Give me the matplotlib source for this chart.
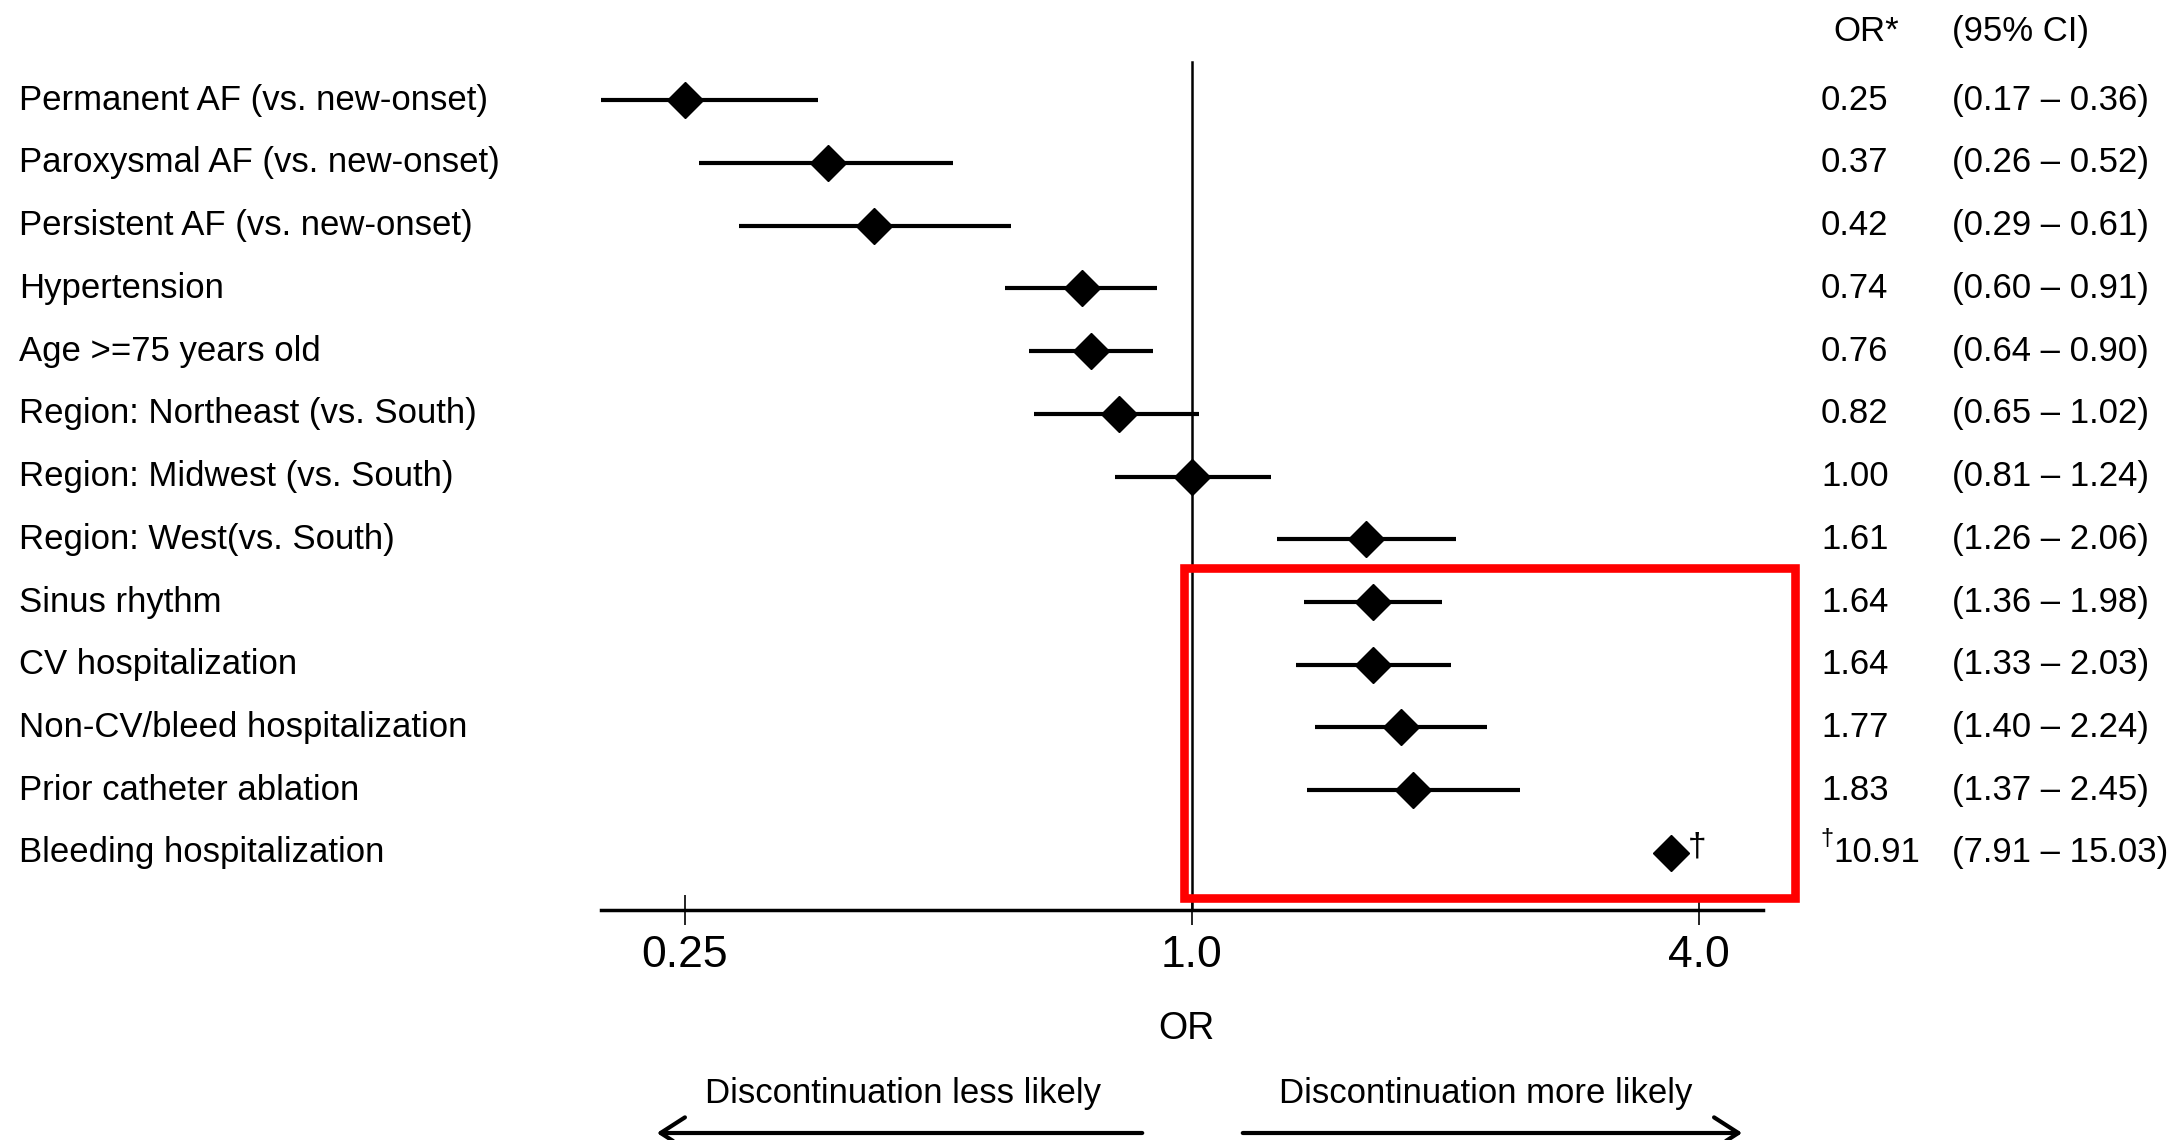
import matplotlib
matplotlib.use("Agg")
import matplotlib.pyplot as plt
import matplotlib.transforms as mtransforms
from matplotlib.patches import Rectangle
from matplotlib.ticker import FixedLocator, NullLocator, FixedFormatter

plt.rcParams['font.family'] = ['Liberation Sans', 'DejaVu Sans']

# forest plot data
labels = ["Permanent AF (vs. new-onset)", "Paroxysmal AF (vs. new-onset)",
          "Persistent AF (vs. new-onset)", "Hypertension", "Age >=75 years old",
          "Region: Northeast (vs. South)", "Region: Midwest (vs. South)",
          "Region: West(vs. South)", "Sinus rhythm", "CV hospitalization",
          "Non-CV/bleed hospitalization", "Prior catheter ablation",
          "Bleeding hospitalization"]
or_vals = [0.25, 0.37, 0.42, 0.74, 0.76, 0.82, 1.00, 1.61, 1.64, 1.64, 1.77, 1.83, 10.91]
ci_low = [0.17, 0.26, 0.29, 0.60, 0.64, 0.65, 0.81, 1.26, 1.36, 1.33, 1.40, 1.37, 7.91]
ci_high = [0.36, 0.52, 0.61, 0.91, 0.90, 1.02, 1.24, 2.06, 1.98, 2.03, 2.24, 2.45, 15.03]
off_scale = [False] * 12 + [True]
tick_vals = [0.25, 1.0, 4.0]
tick_labels = ["0.25", "1.0", "4.0"]

OFF_POS = 3.7  # where an off-scale estimate is drawn

W, H = 2168, 1140
fig = plt.figure(figsize=(W / 100, H / 100), dpi=100)
ax = fig.add_axes([601 / W, 1 - 910 / H, (1763 - 601) / W, (910 - 62) / H])

ax.set_xscale('log')
ax.set_xlim(0.199, 4.76)
ax.set_ylim(12.91, -0.61)

rows = list(range(len(labels)))

for i in rows:
    if off_scale[i]:
        ax.plot(OFF_POS, i, marker='D', color='black', markersize=18, clip_on=False)
        ax.text(OFF_POS * 1.075, i - 0.1, "\u2020", fontsize=24, ha='center', va='center')
    else:
        ax.plot([ci_low[i], ci_high[i]], [i, i], color='black', lw=3, solid_capstyle='butt')
        ax.plot(or_vals[i], i, marker='D', color='black', markersize=18)

# reference line at OR = 1
ax.plot([1, 1], [-0.61, 12.91], color='black', lw=1.8, clip_on=False)

# highlight box
box = Rectangle((0.978, 7.46), 5.2 - 0.978, 12.72 - 7.46, fill=False,
                edgecolor='#ff0000', lw=6.2, clip_on=False, zorder=5)
ax.add_patch(box)

for s in ['top', 'left', 'right']:
    ax.spines[s].set_visible(False)
ax.spines['bottom'].set_linewidth(2.5)
ax.set_yticks([])
ax.xaxis.set_major_locator(FixedLocator(tick_vals))
ax.xaxis.set_major_formatter(FixedFormatter(tick_labels))
ax.xaxis.set_minor_locator(NullLocator())
ax.tick_params(axis='x', direction='inout', length=22, width=1.2, pad=7, labelsize=32)

# text columns
trans = mtransforms.blended_transform_factory(fig.transFigure, ax.transData)
for i in rows:
    ax.text(19 / W, i, labels[i], transform=trans, fontsize=25, ha='left', va='center')
    if off_scale[i]:
        ax.text(1820 / W, i - 0.22, "\u2020", transform=trans, fontsize=17, ha='left', va='center')
        ax.text(1833 / W, i, f"{or_vals[i]:.2f}", transform=trans, fontsize=25, ha='left', va='center')
    else:
        ax.text(1821 / W, i, f"{or_vals[i]:.2f}", transform=trans, fontsize=25, ha='left', va='center')
    ax.text(1952 / W, i, f"({ci_low[i]:.2f} \u2013 {ci_high[i]:.2f})", transform=trans,
            fontsize=25, ha='left', va='center')

ax.text(1833 / W, -1.1, "OR*", transform=trans, fontsize=25, ha='left', va='center')
ax.text(1952 / W, -1.1, "(95% CI)", transform=trans, fontsize=25, ha='left', va='center')

fig.text(1186 / W, 1 - 1029 / H, "OR", fontsize=27, ha='center', va='center')
fig.text(903 / W, 1 - 1094 / H, "Discontinuation less likely", fontsize=25, ha='center', va='center')
fig.text(1486 / W, 1 - 1094 / H, "Discontinuation more likely", fontsize=25, ha='center', va='center')

arrow_y = 1 - 1133 / H
fig.add_artist(matplotlib.patches.FancyArrowPatch(
    (1145 / W, arrow_y), (654 / W, arrow_y), transform=fig.transFigure,
    arrowstyle='->,head_length=0.7,head_width=0.45', mutation_scale=25, lw=3, color='black'))
fig.add_artist(matplotlib.patches.FancyArrowPatch(
    (1240 / W, arrow_y), (1745 / W, arrow_y), transform=fig.transFigure,
    arrowstyle='->,head_length=0.7,head_width=0.45', mutation_scale=25, lw=3, color='black'))

fig.savefig("out.png", dpi=100)
